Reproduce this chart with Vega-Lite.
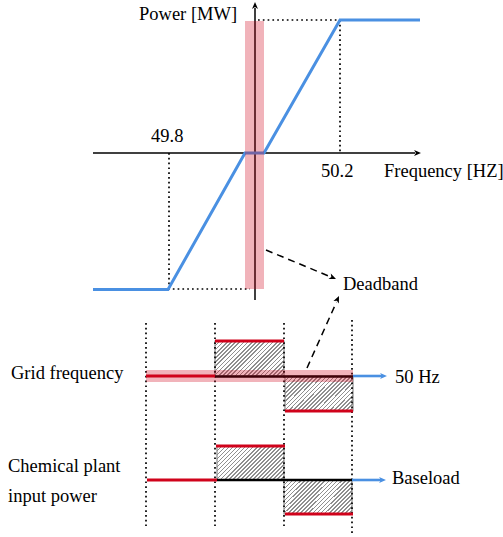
{
  "$schema": "https://vega.github.io/schema/vega-lite/v6.json",
  "width": 503,
  "height": 537,
  "padding": 0,
  "autosize": {"type": "none"},
  "background": "white",
  "config": {"view": {"stroke": null}},
  "datasets": {
    "segments": [
      {"kind": "axis", "x": 93, "y": 153, "x2": 415, "y2": 153},
      {"kind": "axis", "x": 255, "y": 300, "x2": 255, "y2": 8},
      {"kind": "guide", "x": 258, "y": 20, "x2": 340, "y2": 20},
      {"kind": "guide", "x": 340, "y": 20, "x2": 340, "y2": 153},
      {"kind": "guide", "x": 169, "y": 153, "x2": 169, "y2": 289},
      {"kind": "guide", "x": 168, "y": 289, "x2": 250, "y2": 289},
      {"kind": "guide", "x": 146, "y": 323, "x2": 146, "y2": 526},
      {"kind": "guide", "x": 215, "y": 323, "x2": 215, "y2": 526},
      {"kind": "guide", "x": 284, "y": 323, "x2": 284, "y2": 526},
      {"kind": "guide", "x": 352, "y": 320, "x2": 352, "y2": 535},
      {"kind": "pointer", "x": 266, "y": 250, "x2": 331, "y2": 277},
      {"kind": "pointer", "x": 307, "y": 368, "x2": 336.5, "y2": 302},
      {"kind": "signal", "x": 146, "y": 376, "x2": 215, "y2": 376},
      {"kind": "signal", "x": 215, "y": 341, "x2": 284, "y2": 341},
      {"kind": "signal", "x": 285, "y": 411, "x2": 353, "y2": 411},
      {"kind": "signal", "x": 147, "y": 480, "x2": 217, "y2": 480},
      {"kind": "signal", "x": 216, "y": 446, "x2": 285, "y2": 446},
      {"kind": "signal", "x": 285, "y": 514, "x2": 353, "y2": 514},
      {"kind": "steady", "x": 215, "y": 376.5, "x2": 353, "y2": 376.5},
      {"kind": "steady", "x": 217, "y": 480, "x2": 352, "y2": 480},
      {"kind": "flow", "x": 353, "y": 376, "x2": 382, "y2": 376},
      {"kind": "flow", "x": 352, "y": 480, "x2": 381, "y2": 480}
    ],
    "droop": [
      {"x": 93, "y": 289.5},
      {"x": 168, "y": 289.5},
      {"x": 245, "y": 153},
      {"x": 264, "y": 153},
      {"x": 340, "y": 20},
      {"x": 420, "y": 20}
    ],
    "heads": [
      {"kind": "black", "x": 255, "y": 2, "dir": 270},
      {"kind": "black", "x": 421, "y": 153, "dir": 0},
      {"kind": "black", "x": 336, "y": 279, "dir": 22.8},
      {"kind": "black", "x": 339, "y": 296, "dir": 294.3},
      {"kind": "blue", "x": 387, "y": 376, "dir": 0},
      {"kind": "blue", "x": 386, "y": 480, "dir": 0}
    ],
    "boxes": [
      {"x": 215, "y": 341, "x2": 284, "y2": 376},
      {"x": 285, "y": 376, "x2": 353, "y2": 411},
      {"x": 217, "y": 446, "x2": 284, "y2": 480},
      {"x": 284, "y": 480, "x2": 352, "y2": 514}
    ],
    "bands": [
      {"x": 245, "y": 21, "x2": 264, "y2": 289},
      {"x": 146, "y": 370, "x2": 353, "y2": 382}
    ],
    "labels": [
      {"x": 139, "y": 20, "text": "Power [MW]"},
      {"x": 151, "y": 142, "text": "49.8"},
      {"x": 321, "y": 177, "text": "50.2"},
      {"x": 384, "y": 177, "text": "Frequency [HZ]"},
      {"x": 343, "y": 290, "text": "Deadband"},
      {"x": 11, "y": 379, "text": "Grid frequency"},
      {"x": 395, "y": 383, "text": "50 Hz"},
      {"x": 8, "y": 472, "text": "Chemical plant"},
      {"x": 8, "y": 502, "text": "input power"},
      {"x": 392, "y": 484, "text": "Baseload"}
    ]
  },
  "encoding": {
    "x": {"field": "x", "type": "quantitative", "scale": {"domain": [0, 503], "nice": false, "zero": false}, "axis": null},
    "y": {"field": "y", "type": "quantitative", "scale": {"domain": [0, 537], "reverse": true, "nice": false, "zero": false}, "axis": null}
  },
  "layer": [
    {
      "data": {"name": "boxes"},
      "mark": {
        "type": "rect",
        "stroke": "#8a8a8a",
        "strokeWidth": 1.2,
        "fill": {
          "gradient": "linear", "x1": 0, "y1": 0, "x2": 1.199, "y2": 0.608,
          "stops": [
            {"offset": 0, "color": "#8f8f8f"}, {"offset": 0.016, "color": "#8f8f8f"}, {"offset": 0.016, "color": "#ffffff"}, {"offset": 0.04, "color": "#ffffff"},
            {"offset": 0.04, "color": "#8f8f8f"}, {"offset": 0.056, "color": "#8f8f8f"}, {"offset": 0.056, "color": "#ffffff"}, {"offset": 0.08, "color": "#ffffff"},
            {"offset": 0.08, "color": "#8f8f8f"}, {"offset": 0.096, "color": "#8f8f8f"}, {"offset": 0.096, "color": "#ffffff"}, {"offset": 0.12, "color": "#ffffff"},
            {"offset": 0.12, "color": "#8f8f8f"}, {"offset": 0.136, "color": "#8f8f8f"}, {"offset": 0.136, "color": "#ffffff"}, {"offset": 0.16, "color": "#ffffff"},
            {"offset": 0.16, "color": "#8f8f8f"}, {"offset": 0.176, "color": "#8f8f8f"}, {"offset": 0.176, "color": "#ffffff"}, {"offset": 0.2, "color": "#ffffff"},
            {"offset": 0.2, "color": "#8f8f8f"}, {"offset": 0.216, "color": "#8f8f8f"}, {"offset": 0.216, "color": "#ffffff"}, {"offset": 0.24, "color": "#ffffff"},
            {"offset": 0.24, "color": "#8f8f8f"}, {"offset": 0.256, "color": "#8f8f8f"}, {"offset": 0.256, "color": "#ffffff"}, {"offset": 0.28, "color": "#ffffff"},
            {"offset": 0.28, "color": "#8f8f8f"}, {"offset": 0.296, "color": "#8f8f8f"}, {"offset": 0.296, "color": "#ffffff"}, {"offset": 0.32, "color": "#ffffff"},
            {"offset": 0.32, "color": "#8f8f8f"}, {"offset": 0.336, "color": "#8f8f8f"}, {"offset": 0.336, "color": "#ffffff"}, {"offset": 0.36, "color": "#ffffff"},
            {"offset": 0.36, "color": "#8f8f8f"}, {"offset": 0.376, "color": "#8f8f8f"}, {"offset": 0.376, "color": "#ffffff"}, {"offset": 0.4, "color": "#ffffff"},
            {"offset": 0.4, "color": "#8f8f8f"}, {"offset": 0.416, "color": "#8f8f8f"}, {"offset": 0.416, "color": "#ffffff"}, {"offset": 0.44, "color": "#ffffff"},
            {"offset": 0.44, "color": "#8f8f8f"}, {"offset": 0.456, "color": "#8f8f8f"}, {"offset": 0.456, "color": "#ffffff"}, {"offset": 0.48, "color": "#ffffff"},
            {"offset": 0.48, "color": "#8f8f8f"}, {"offset": 0.496, "color": "#8f8f8f"}, {"offset": 0.496, "color": "#ffffff"}, {"offset": 0.52, "color": "#ffffff"},
            {"offset": 0.52, "color": "#8f8f8f"}, {"offset": 0.536, "color": "#8f8f8f"}, {"offset": 0.536, "color": "#ffffff"}, {"offset": 0.56, "color": "#ffffff"},
            {"offset": 0.56, "color": "#8f8f8f"}, {"offset": 0.576, "color": "#8f8f8f"}, {"offset": 0.576, "color": "#ffffff"}, {"offset": 0.6, "color": "#ffffff"},
            {"offset": 0.6, "color": "#8f8f8f"}, {"offset": 0.616, "color": "#8f8f8f"}, {"offset": 0.616, "color": "#ffffff"}, {"offset": 0.64, "color": "#ffffff"},
            {"offset": 0.64, "color": "#8f8f8f"}, {"offset": 0.656, "color": "#8f8f8f"}, {"offset": 0.656, "color": "#ffffff"}, {"offset": 0.68, "color": "#ffffff"},
            {"offset": 0.68, "color": "#8f8f8f"}, {"offset": 0.696, "color": "#8f8f8f"}, {"offset": 0.696, "color": "#ffffff"}, {"offset": 0.72, "color": "#ffffff"},
            {"offset": 0.72, "color": "#8f8f8f"}, {"offset": 0.736, "color": "#8f8f8f"}, {"offset": 0.736, "color": "#ffffff"}, {"offset": 0.76, "color": "#ffffff"},
            {"offset": 0.76, "color": "#8f8f8f"}, {"offset": 0.776, "color": "#8f8f8f"}, {"offset": 0.776, "color": "#ffffff"}, {"offset": 0.8, "color": "#ffffff"},
            {"offset": 0.8, "color": "#8f8f8f"}, {"offset": 0.816, "color": "#8f8f8f"}, {"offset": 0.816, "color": "#ffffff"}, {"offset": 0.84, "color": "#ffffff"},
            {"offset": 0.84, "color": "#8f8f8f"}, {"offset": 0.856, "color": "#8f8f8f"}, {"offset": 0.856, "color": "#ffffff"}, {"offset": 0.88, "color": "#ffffff"},
            {"offset": 0.88, "color": "#8f8f8f"}, {"offset": 0.896, "color": "#8f8f8f"}, {"offset": 0.896, "color": "#ffffff"}, {"offset": 0.92, "color": "#ffffff"},
            {"offset": 0.92, "color": "#8f8f8f"}, {"offset": 0.936, "color": "#8f8f8f"}, {"offset": 0.936, "color": "#ffffff"}, {"offset": 0.96, "color": "#ffffff"},
            {"offset": 0.96, "color": "#8f8f8f"}, {"offset": 0.976, "color": "#8f8f8f"}, {"offset": 0.976, "color": "#ffffff"}, {"offset": 1, "color": "#ffffff"}
          ]
        }
      },
      "encoding": {"x2": {"field": "x2"}, "y2": {"field": "y2"}}
    },
    {
      "data": {"name": "segments"},
      "transform": [{"filter": "datum.kind === 'guide'"}],
      "mark": {"type": "rule", "color": "#000000", "strokeWidth": 1.7, "strokeDash": [1.7, 3.1]},
      "encoding": {"x2": {"field": "x2"}, "y2": {"field": "y2"}}
    },
    {
      "data": {"name": "segments"},
      "transform": [{"filter": "datum.kind === 'axis'"}],
      "mark": {"type": "rule", "color": "#000000", "strokeWidth": 1.5},
      "encoding": {"x2": {"field": "x2"}, "y2": {"field": "y2"}}
    },
    {
      "data": {"name": "droop"},
      "mark": {"type": "line", "color": "#4a90e2", "strokeWidth": 3, "strokeJoin": "miter"},
      "encoding": {}
    },
    {
      "data": {"name": "segments"},
      "transform": [{"filter": "datum.kind === 'signal'"}],
      "mark": {"type": "rule", "color": "#d0021b", "strokeWidth": 3},
      "encoding": {"x2": {"field": "x2"}, "y2": {"field": "y2"}}
    },
    {
      "data": {"name": "segments"},
      "transform": [{"filter": "datum.kind === 'steady'"}],
      "mark": {"type": "rule", "color": "#000000", "strokeWidth": 2.6},
      "encoding": {"x2": {"field": "x2"}, "y2": {"field": "y2"}}
    },
    {
      "data": {"name": "segments"},
      "transform": [{"filter": "datum.kind === 'flow'"}],
      "mark": {"type": "rule", "color": "#4a90e2", "strokeWidth": 2.6},
      "encoding": {"x2": {"field": "x2"}, "y2": {"field": "y2"}}
    },
    {
      "data": {"name": "segments"},
      "transform": [{"filter": "datum.kind === 'pointer'"}],
      "mark": {"type": "rule", "color": "#000000", "strokeWidth": 1.5, "strokeDash": [7, 5]},
      "encoding": {"x2": {"field": "x2"}, "y2": {"field": "y2"}}
    },
    {
      "data": {"name": "heads"},
      "transform": [{"filter": "datum.kind === 'black'"}],
      "mark": {"type": "point", "shape": "M0,0L-2.3,-1L-1.7,0L-2.3,1Z", "filled": true, "color": "#000000", "size": 36, "opacity": 1},
      "encoding": {"angle": {"field": "dir", "type": "quantitative", "scale": null}}
    },
    {
      "data": {"name": "heads"},
      "transform": [{"filter": "datum.kind === 'blue'"}],
      "mark": {"type": "point", "shape": "M0,0L-2.3,-1L-1.7,0L-2.3,1Z", "filled": true, "color": "#4a90e2", "size": 36, "opacity": 1},
      "encoding": {"angle": {"field": "dir", "type": "quantitative", "scale": null}}
    },
    {
      "data": {"name": "bands"},
      "mark": {"type": "rect", "color": "#d0021b", "opacity": 0.3},
      "encoding": {"x2": {"field": "x2"}, "y2": {"field": "y2"}}
    },
    {
      "data": {"name": "labels"},
      "mark": {"type": "text", "align": "left", "baseline": "alphabetic", "font": "Liberation Serif", "fontSize": 18.5, "color": "#000000"},
      "encoding": {"text": {"field": "text"}}
    }
  ]
}
